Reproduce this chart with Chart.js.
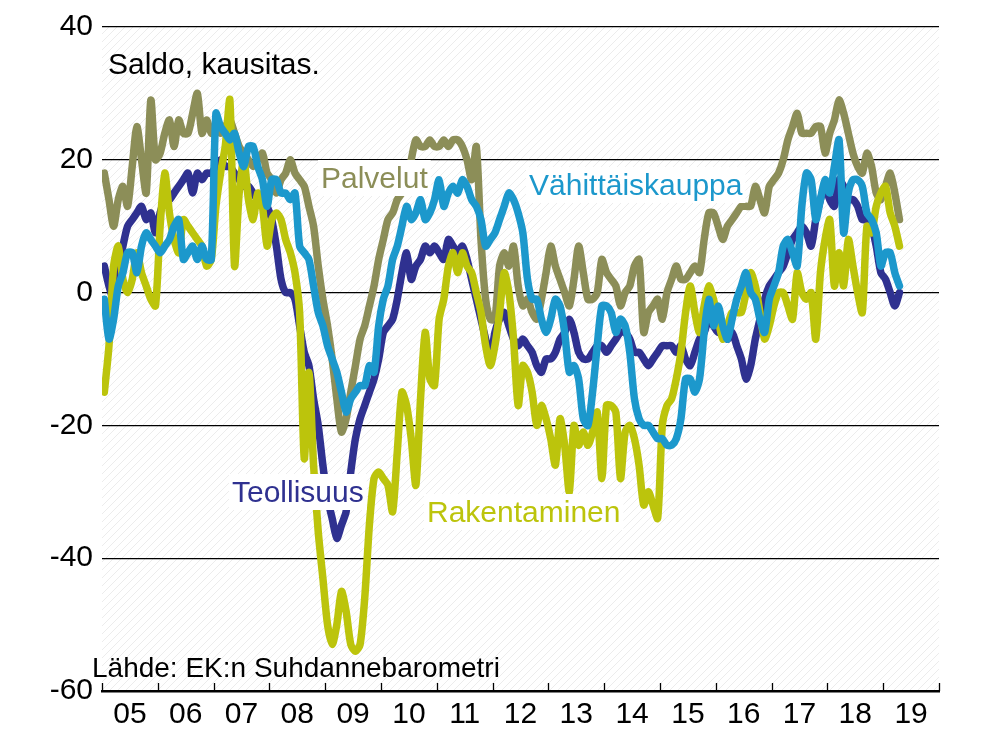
<!DOCTYPE html>
<html>
<head>
<meta charset="utf-8">
<script src="https://cdn.jsdelivr.net/npm/chart.js@4/dist/chart.umd.min.js"></script>
<style>
  html, body { margin: 0; padding: 0; background: #fff; }
  #wrap { width: 994px; height: 746px; position: relative; }
</style>
</head>
<body>
<div id="wrap"><canvas id="myChart" width="994" height="746"></canvas></div>
<script>
// kuukausisarjat tammikuu 2005 - huhtikuu 2019, saldoluku
const startYear = 2005
const endYear = 2020
const xLabels = ['05','06','07','08','09','10','11','12','13','14','15','16','17','18','19']
const yTicks = [-60, -40, -20, 0, 20, 40]

const palvelut = [
  18, 14, 10, 14, 16, 13, 19, 25, 20, 15, 29, 20,
  21, 24, 26, 22, 26, 24, 24, 27, 30, 24, 26, 24,
  25, 24, 25, 26, 24, 22, 21, 20, 19, 20, 21, 18,
  17, 15, 17, 18, 20, 18, 17, 16, 13, 10, 4, -1,
  -5, -10, -16, -21, -19, -15, -11, -7, -5, -2, 1, 5,
  8, 11, 12, 14, 15, 17, 20, 23, 22, 22, 23, 22,
  22, 23, 22, 23, 23, 22, 20, 17, 22, 8, -1, -4,
  -4, 4, 6, 4, 7, 1, -2, -1, -3, -4, -1, 3,
  7, 4, 2, 0, -2, 2, 7, 3, -1, -1, 0, 5,
  3, 2, 1, -2, 0, 1, 4, 5, -6, -3, -2, -1,
  -4, 0, 2, 4, 2, 2, 3, 4, 3, 8, 12, 12,
  10, 8, 10, 11, 12, 13, 13, 13, 16, 14, 12, 16,
  17, 18, 20, 23, 25, 27, 24, 24, 24, 25, 25, 21,
  24, 26, 29, 27, 24, 21, 19, 18, 21, 19, 15, 14,
  16, 18, 15, 11
]
const teollisuus = [
  4, 1, -1, 3, 7, 10, 11, 12, 13, 11, 12, 9,
  12, 14, 14, 15, 16, 17, 18, 15, 18, 17, 18, 18,
  19, 20, 19, 19, 18, 17, 16, 16, 15, 14, 14, 13,
  11, 7, 2, 0, 0, -1, -5, -9, -11, -16, -20, -26,
  -31, -34, -37, -35, -33, -27, -22, -19, -17, -15, -13, -10,
  -6, -5, -4, -1, 3, 6, 2, 4, 5, 7, 6, 7,
  6, 5, 8, 7, 6, 7, 5, 2, -1, -4, -7, -10,
  -6, -4, -3, -5, -7, -8, -7, -8, -9, -11, -12, -10,
  -10, -9, -7, -6, -4, -6, -9, -10, -10, -9, -8, -8,
  -9, -8, -7, -6, -6, -7, -9, -9, -10, -11, -10, -9,
  -8, -8, -8, -9, -8, -10, -11, -9, -7, -6, -4, -5,
  -6, -5, -7, -6, -8, -10, -13, -11, -7, -4, -1, 1,
  2, 3, 4, 6, 8, 9, 10, 9, 7, 11, 14, 16,
  14, 13, 17, 16, 14, 14, 13, 11, 11, 10, 7, 3,
  2, 0, -2, 0
]
const vahittaiskauppa = [
  -1, -7, -4, 1, 3, 6, 6, 3, 7, 9, 8, 7,
  6, 7, 8, 10, 11, 5, 6, 7, 5, 7, 5, 5,
  27, 25, 24, 23, 24, 21, 19, 22, 22, 19, 17, 13,
  17, 17, 15, 15, 14, 15, 7, 6, 5, 1, -3, -5,
  -8, -10, -12, -15, -18, -16, -15, -14, -14, -11, -12, -5,
  -1, 1, 5, 7, 10, 13, 11, 12, 14, 11, 12, 14,
  17, 13, 15, 16, 15, 17, 16, 14, 13, 11, 7, 8,
  9, 11, 13, 15, 14, 12, 9, 2, -1, -1, -4, -6,
  -4, -1, -2, -6, -12, -11, -13, -19, -20, -15, -8, -2,
  -2, -3, -6, -4, -5, -9, -16, -19, -20, -20, -21, -22,
  -22, -23, -23, -22, -19, -13, -13, -15, -13, -6, -1, -5,
  -2, -5, -7, -4, -1, 1, 3, 0, -1, -4, -6, -1,
  1, 3, 7, 8, 6, 4, 13, 18, 17, 11, 14, 17,
  15, 19, 23, 9, 15, 17, 17, 16, 12, 11, 9, 4,
  6, 6, 3, 1
]
const rakentaminen = [
  -15, -8, 4, 7, 2, 0, 2, 6, 3, 1, -1, -2,
  10, 18, 12, 8, 6, 11, 10, 9, 8, 7, 4, 5,
  13, 18, 22, 29, 4, 15, 20, 14, 11, 15, 13, 7,
  11, 12, 11, 8, 6, 3, -3, -25, -12, -26, -36, -43,
  -50, -53, -50, -45, -48, -53, -54, -53, -46, -35, -28, -27,
  -28, -29, -33, -24, -15, -17, -22, -29, -16, -6, -13, -14,
  -4, -1, 4, 6, 3, 6, 4, 3, 0, -3, -8, -11,
  -8, -3, 3, 0, -7, -17, -11, -12, -15, -20, -17, -19,
  -22, -26, -19, -23, -30, -20, -23, -21, -23, -21, -18, -28,
  -17, -17, -18, -28, -21, -20, -22, -26, -32, -30, -32, -34,
  -20, -17, -16, -13, -9, -3, 1, -3, -6, -2, 1, -1,
  -4, -7, -5, -3, -3, -3, 0, 3, 1, -3, -7, -5,
  -2, 0, 0, -2, -4, 3, 0, -1, 0, -7, 3, 8,
  11, 1, 6, 1, 8, 4, 0, -3, 10, 9, 13, 15,
  16, 12, 10, 7
]

const cOlive = '#8c8e58'
const cNavy = '#2f3190'
const cYellow = '#bcc40c'
const cBlue = '#1c98cc'
const fontFam = '"Liberation Sans", Arial, sans-serif'

// kuukausi -> vuosiluku (kuun puoliväli)
const toPoints = arr => arr.map((v, i) => ({ x: startYear + (i + 0.5) / 12, y: v }))

const makeSet = (label, arr, color, order) => ({
  label: label,
  data: toPoints(arr),
  borderColor: color,
  backgroundColor: color,
  borderWidth: 7.5,
  pointRadius: 0,
  tension: 0.25,
  borderJoinStyle: 'round',
  borderCapStyle: 'round',
  order: order
})

// vinoviivoitus taustalle
const hatchPattern = () => {
  const c = document.createElement('canvas')
  c.width = 8; c.height = 8
  const g = c.getContext('2d')
  g.strokeStyle = '#ececec'
  g.lineWidth = 1
  g.beginPath()
  g.moveTo(0, 8); g.lineTo(8, 0)
  g.moveTo(-4, 4); g.lineTo(4, -4)
  g.moveTo(4, 12); g.lineTo(12, 4)
  g.stroke()
  return g.createPattern(c, 'repeat')
}

const bgPlugin = {
  id: 'bg',
  beforeDraw(chart) {
    const { ctx, chartArea: a } = chart
    ctx.save()
    ctx.fillStyle = '#fff'
    ctx.fillRect(0, 0, chart.width, chart.height)
    ctx.fillStyle = hatchPattern()
    ctx.fillRect(a.left, a.top, a.right - a.left, a.bottom - a.top)
    ctx.restore()
  }
}

const labelPlugin = {
  id: 'labels',
  afterDatasetsDraw(chart) {
    const ctx = chart.ctx
    const put = (text, x, y, color, box) => {
      ctx.font = '30px ' + fontFam
      ctx.textBaseline = 'alphabetic'
      ctx.textAlign = 'left'
      if (box) {
        const w = ctx.measureText(text).width
        ctx.fillStyle = '#fff'
        ctx.fillRect(x - 3, y - 28, w + 6, 36)
      }
      ctx.fillStyle = color
      ctx.fillText(text, x, y)
    }
    ctx.save()
    put('Saldo, kausitas.', 108, 74, '#000', false)
    put('Palvelut', 321, 188, cOlive, true)
    put('Vähittäiskauppa', 529, 195, cBlue, true)
    put('Teollisuus', 232, 502, cNavy, true)
    put('Rakentaminen', 427, 522, cYellow, true)
    ctx.font = '28px ' + fontFam
    ctx.fillStyle = '#000'
    ctx.fillText('Lähde: EK:n Suhdannebarometri', 92, 677)
    ctx.restore()
  },
  afterDraw(chart) {
    // vuosien väliset jakoviivat x-akselin yläpuolelle
    const { ctx, scales: { x }, chartArea: a } = chart
    ctx.save()
    ctx.strokeStyle = '#000'
    ctx.lineWidth = 1.3
    ctx.beginPath()
    for (let yr = startYear; yr <= endYear; yr++) {
      const px = Math.round(x.getPixelForValue(yr)) + 0.5
      ctx.moveTo(px, a.bottom)
      ctx.lineTo(px, a.bottom - 8)
    }
    ctx.stroke()
    ctx.restore()
  }
}

const ctx = document.getElementById('myChart')
const myChart = new Chart(ctx, {
  type: 'line',
  data: {
    datasets: [
      makeSet('Vähittäiskauppa', vahittaiskauppa, cBlue, 0),
      makeSet('Rakentaminen', rakentaminen, cYellow, 1),
      makeSet('Teollisuus', teollisuus, cNavy, 2),
      makeSet('Palvelut', palvelut, cOlive, 3)
    ]
  },
  plugins: [bgPlugin, labelPlugin],
  options: {
    responsive: false,
    animation: false,
    layout: { padding: { left: 0, right: 55, top: 21, bottom: 0 } },
    plugins: { legend: { display: false }, tooltip: { enabled: false } },
    scales: {
      x: {
        type: 'linear',
        min: startYear,
        max: endYear,
        afterBuildTicks: scale => {
          scale.ticks = xLabels.map((l, i) => ({ value: startYear + i + 0.5 }))
        },
        afterFit: scale => { scale.height = 55 },
        ticks: {
          callback: (v, i) => xLabels[i],
          font: { size: 30, family: fontFam },
          color: '#000',
          maxRotation: 0,
          autoSkip: false,
          padding: 6
        },
        grid: { display: false, drawTicks: false },
        border: { display: true, color: '#000', width: 2.5 }
      },
      y: {
        min: -60,
        max: 40,
        afterBuildTicks: scale => {
          scale.ticks = yTicks.map(v => ({ value: v }))
        },
        afterFit: scale => { scale.width = 102 },
        ticks: {
          font: { size: 30, family: fontFam },
          color: '#000',
          padding: 9
        },
        grid: { color: '#000', lineWidth: 1.2, drawTicks: false },
        border: { display: false }
      }
    }
  }
})
</script>
</body>
</html>
